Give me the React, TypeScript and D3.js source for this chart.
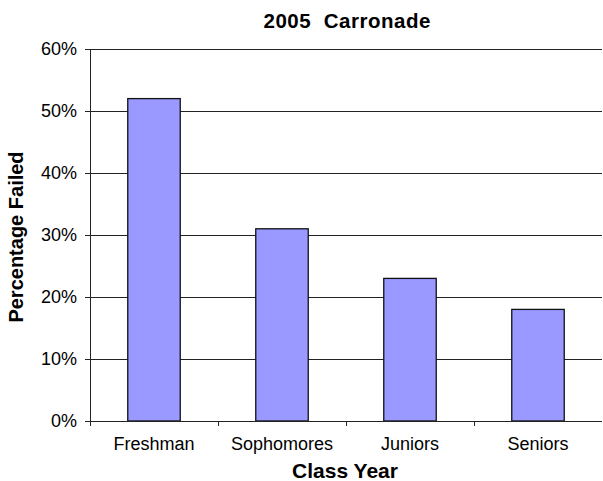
import React from "react";
import * as d3 from "d3";

const title = "2005  Carronade";
const categories = ["Freshman", "Sophomores", "Juniors", "Seniors"];
const failedPct = [52, 31, 23, 18];
const yTicks = [0, 10, 20, 30, 40, 50, 60];

const W = 603;
const H = 481;
const margin = { left: 90, right: 1, top: 49, bottom: 60 };
const FONT = "Arial, 'Liberation Sans', Helvetica, sans-serif";

export default function App() {
  const x = d3
    .scaleBand<string>()
    .domain(categories)
    .range([margin.left, W - margin.right])
    .paddingInner(0.59)
    .paddingOuter(0.295);
  const y = d3.scaleLinear().domain([0, 60]).range([H - margin.bottom, margin.top]);
  const step = x.step();
  const x0 = margin.left;
  const x1 = W - margin.right;
  const yBottom = y(0);

  return (
    <svg
      width={W}
      height={H}
      style={{ position: "absolute", left: 0, top: 0, background: "#fff" }}
      fontFamily={FONT}
    >
      <text
        x={347}
        y={28}
        textAnchor="middle"
        fontSize={20.5}
        fontWeight="bold"
        fill="#000"
        textLength={167}
        style={{ whiteSpace: "pre" }}
      >
        {title}
      </text>

      {/* gridlines */}
      {yTicks.filter((t) => t > 0).map((t) => (
        <line
          key={t}
          x1={x0}
          x2={x1}
          y1={Math.round(y(t)) + 0.5}
          y2={Math.round(y(t)) + 0.5}
          stroke="#222"
          strokeWidth={1}
        />
      ))}

      {/* bars */}
      {categories.map((c, i) => (
        <rect
          key={c}
          x={x(c)!}
          y={y(failedPct[i])}
          width={x.bandwidth()}
          height={yBottom - y(failedPct[i])}
          fill="#9999FF"
          stroke="#111"
          strokeWidth={1.3}
        />
      ))}

      {/* y axis */}
      <line x1={x0 + 0.5} x2={x0 + 0.5} y1={margin.top} y2={yBottom + 1} stroke="#222" />
      {yTicks.map((t) => (
        <g key={t}>
          <line
            x1={x0 - 5}
            x2={x0}
            y1={Math.round(y(t)) + 0.5}
            y2={Math.round(y(t)) + 0.5}
            stroke="#222"
          />
          <text
            x={x0 - 13}
            y={y(t) + 6.3}
            textAnchor="end"
            fontSize={18}
            fill="#000"
          >
            {t}%
          </text>
        </g>
      ))}

      {/* x axis */}
      <line
        x1={x0}
        x2={x1}
        y1={Math.round(yBottom) + 0.5}
        y2={Math.round(yBottom) + 0.5}
        stroke="#222"
      />
      {categories.map((c, i) => (
        <line
          key={c}
          x1={x0 + step * i + 0.5}
          x2={x0 + step * i + 0.5}
          y1={yBottom}
          y2={yBottom + 5}
          stroke="#222"
        />
      ))}
      {categories.map((c) => (
        <text
          key={c}
          x={x(c)! + x.bandwidth() / 2}
          y={450}
          textAnchor="middle"
          fontSize={18}
          fill="#000"
        >
          {c}
        </text>
      ))}

      <text
        x={345}
        y={478}
        textAnchor="middle"
        fontSize={21}
        fontWeight="bold"
        fill="#000"
      >
        Class Year
      </text>
      <text
        transform={`translate(23, 237) rotate(-90)`}
        textAnchor="middle"
        fontSize={20}
        fontWeight="bold"
        fill="#000"
      >
        Percentage Failed
      </text>
    </svg>
  );
}
